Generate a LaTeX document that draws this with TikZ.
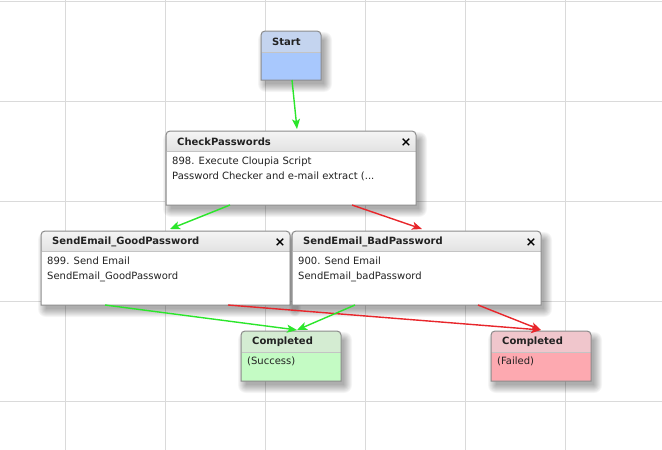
\documentclass[tikz,border=0pt]{standalone}
\usepackage{fontspec}
\setmainfont{DejaVu Sans}
\usetikzlibrary{calc,arrows.meta}
\definecolor{gridc}{HTML}{DADADA}
\definecolor{bordc}{HTML}{8C8C8C}
\definecolor{sepc}{HTML}{C4C4C4}
\definecolor{txtc}{HTML}{222222}
\definecolor{ghtop}{HTML}{F5F5F5}
\definecolor{ghbot}{HTML}{E2E2E2}
\definecolor{bhead}{HTML}{C4D4EF}
\definecolor{bbody}{HTML}{A8C8FD}
\definecolor{shead}{HTML}{D4ECD2}
\definecolor{sbody}{HTML}{C4FBC4}
\definecolor{fhead}{HTML}{F0C6CC}
\definecolor{fbody}{HTML}{FDA9B0}
\definecolor{okc}{HTML}{2BE62B}
\definecolor{badc}{HTML}{E8262B}
\newcommand\flowbox[4]{% name, header style, body colour, header height
  \foreach \i in {0,...,8}{
    \fill[black,opacity=0.04,rounded corners=\i pt]
      ($(#1.north west)+(5-\i,9-\i)$) rectangle ($(#1.south east)+(3+\i,4+\i)$);
  }
  \fill[#3] (#1.south west) -- ($(#1.north west)+(0,4)$)
    arc[start angle=180,end angle=270,radius=4]
    -- ($(#1.north east)+(-4,0)$) arc[start angle=270,end angle=360,radius=4]
    -- (#1.south east) -- cycle;
  \path[#2] ($(#1.north west)+(0,#4)$) -- ($(#1.north west)+(0,4)$)
    arc[start angle=180,end angle=270,radius=4]
    -- ($(#1.north east)+(-4,0)$) arc[start angle=270,end angle=360,radius=4]
    -- ($(#1.north east)+(0,#4)$) -- cycle;
  \draw[sepc,line width=1pt] ($(#1.north west)+(0.5,#4)$) -- ($(#1.north east)+(-0.5,#4)$);
  \draw[bordc,line width=1pt] (#1.south west) -- ($(#1.north west)+(0,4)$)
    arc[start angle=180,end angle=270,radius=4]
    -- ($(#1.north east)+(-4,0)$) arc[start angle=270,end angle=360,radius=4]
    -- (#1.south east) -- cycle;
}
\begin{document}
\begin{tikzpicture}[x=1pt,y=-1pt,
  anchorbox/.style={draw=none,fill=none,inner sep=0pt,outer sep=0pt,rectangle},
  headtxt/.style={anchor=west,inner sep=0pt,font=\bfseries\fontsize{10}{12}\selectfont,text=txtc},
  bodytxt/.style={anchor=north west,inner sep=0pt,align=left,font=\fontsize{10}{15}\selectfont,text=txtc},
  closex/.style={inner sep=0pt,font=\bfseries\fontsize{13}{13}\selectfont,text=black},
  grayhead/.style={top color=ghtop,bottom color=ghbot},
  flow/.style={line width=1.4pt,-{Stealth[length=10pt,width=8pt,inset=2.5pt]}},
  ok/.style={flow,okc},
  bad/.style={flow,badc}]
\useasboundingbox (0,0) rectangle (662,450);
\fill[white] (0,0) rectangle (662,450);
\foreach \x in {65,165,...,565} \draw[gridc,line width=1pt] (\x,0) -- (\x,450);
\foreach \y in {1,101,...,401} \draw[gridc,line width=1pt] (0,\y) -- (662,\y);

% anchor nodes
\node[anchorbox,minimum width=60pt,minimum height=49pt] (start) at (291,55.5) {};
\node[anchorbox,minimum width=250pt,minimum height=74pt] (cp) at (291,168) {};
\node[anchorbox,minimum width=249pt,minimum height=74pt] (good) at (165.5,268) {};
\node[anchorbox,minimum width=249pt,minimum height=74pt] (badp) at (416.5,268) {};
\node[anchorbox,minimum width=100pt,minimum height=50pt] (succ) at (291,356) {};
\node[anchorbox,minimum width=100pt,minimum height=50pt] (fail) at (541,356) {};

\flowbox{start}{fill=bhead}{bbody}{21}
\flowbox{cp}{grayhead}{white}{20}
\flowbox{good}{grayhead}{white}{20}
\flowbox{badp}{grayhead}{white}{20}
\flowbox{succ}{fill=shead}{sbody}{21}
\flowbox{fail}{fill=fhead}{fbody}{21}

% texts
\node[headtxt] (t0) at ($(start.north west)+(11,11)$) {Start};
\node[headtxt] (t1) at ($(cp.north west)+(11,11)$) {CheckPasswords};
\node[bodytxt] (b1) at ($(cp.north west)+(6,25.5)$) {898. Execute Cloupia Script\\Password Checker and e-mail extract (...};
\node[closex] (x1) at ($(cp.north east)+(-10,11.5)$) {×};
\node[headtxt] (t2) at ($(good.north west)+(11,11)$) {SendEmail\_GoodPassword};
\node[bodytxt] (b2) at ($(good.north west)+(6,25.5)$) {899. Send Email\\SendEmail\_GoodPassword};
\node[closex] (x2) at ($(good.north east)+(-10,11.5)$) {×};
\node[headtxt] (t3) at ($(badp.north west)+(11,11)$) {SendEmail\_BadPassword};
\node[bodytxt] (b3) at ($(badp.north west)+(6,25.5)$) {900. Send Email\\SendEmail\_badPassword};
\node[closex] (x3) at ($(badp.north east)+(-10,11.5)$) {×};
\node[headtxt] (t4) at ($(succ.north west)+(11,11)$) {Completed};
\node[bodytxt] (b4) at ($(succ.north west)+(6,25.5)$) {(Success)};
\node[headtxt] (t5) at ($(fail.north west)+(11,11)$) {Completed};
\node[bodytxt] (b5) at ($(fail.north west)+(6,25.5)$) {(Failed)};

% connectors
\draw[ok] ($(start.south west)+(31,0)$) -- ($(cp.north west)+(131,-2)$);
\draw[ok] ($(cp.south west)+(64,0)$) -- ($(good.north west)+(129,-2)$);
\draw[bad] ($(cp.south west)+(186,0)$) -- ($(badp.north west)+(130,-2)$);
\draw[ok] ($(good.south west)+(64,0)$) -- ($(succ.north west)+(56,-1)$);
\draw[bad] ($(good.south west)+(187,0)$) -- ($(fail.north west)+(50,-1)$);
\draw[ok] ($(badp.south west)+(63,0)$) -- ($(succ.north west)+(56,-1)$);
\draw[bad] ($(badp.south west)+(186,0)$) -- ($(fail.north west)+(50,-1)$);
\end{tikzpicture}
\end{document}
